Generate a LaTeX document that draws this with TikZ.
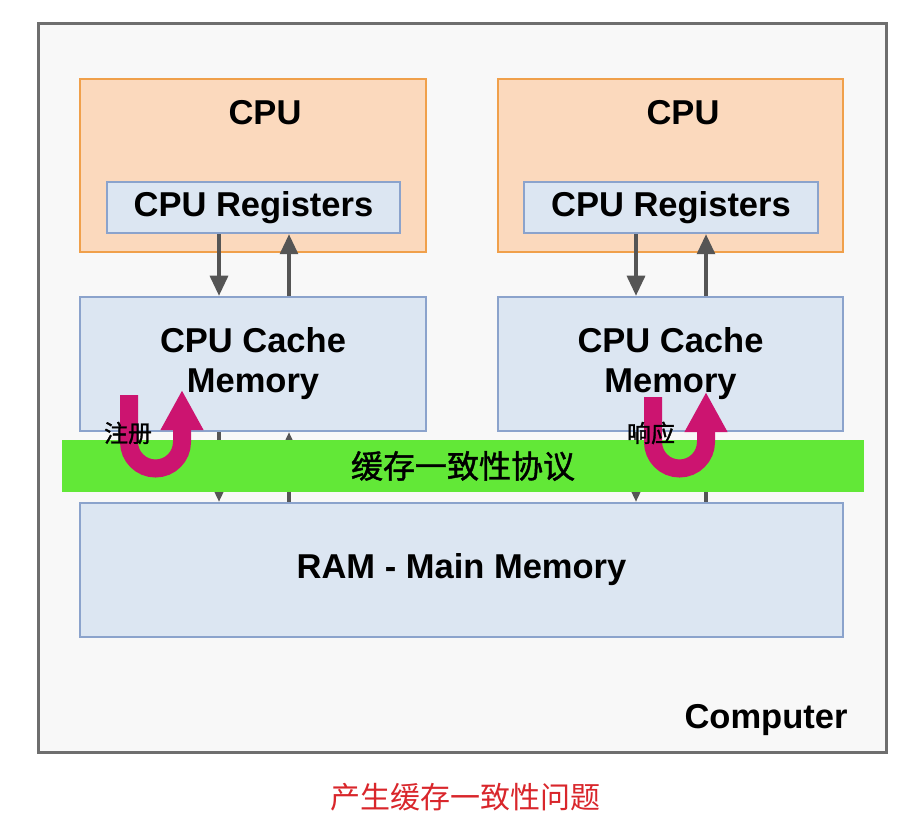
\documentclass[tikz,border=0pt]{standalone}
\usepackage{fontspec}
\setmainfont{Liberation Sans}
\newfontfamily\cjk{Noto Sans CJK SC}
\newfontfamily\cjkheavy{Noto Sans CJK SC}[FakeBold=1.3]
\usetikzlibrary{arrows.meta}

\definecolor{pcgray}{HTML}{6E6E6E}
\definecolor{pcfill}{HTML}{F8F8F8}
\definecolor{cpuedge}{HTML}{F0A04B}
\definecolor{cpufill}{HTML}{FBD9BD}
\definecolor{memedge}{HTML}{8BA3CC}
\definecolor{memfill}{HTML}{DCE6F2}
\definecolor{bandgreen}{HTML}{62E837}
\definecolor{turnpink}{HTML}{CC1470}
\definecolor{linkgray}{HTML}{555555}
\definecolor{notered}{HTML}{D9262B}

\begin{document}
\begin{tikzpicture}[x=1pt,y=-1pt,
  cpubox/.style={draw=cpuedge, fill=cpufill, line width=2.5pt, inner sep=0pt},
  membox/.style={draw=memedge, fill=memfill, line width=2.5pt, inner sep=0pt, align=center,
    font=\fontsize{34.5}{40}\selectfont\bfseries},
  link/.style={draw=linkgray, line width=3.2pt, -{Triangle[length=20pt,width=18pt]}},
  uturn/.style={draw=turnpink, line width=18pt, -{Triangle[length=40pt,width=40pt]}},
  big/.style={font=\fontsize{34.5}{40}\selectfont\bfseries}]
\useasboundingbox (0,0) rectangle (918,826);
\fill[white] (0,0) rectangle (918,826);

% computer frame
\node[draw=pcgray, fill=pcfill, line width=3pt, minimum width=848pt, minimum height=728pt] (pc) at (462,388) {};
\node[big, anchor=east] (pclabel) at (851,720) {Computer};

% two cpus
\node[cpubox, minimum width=346pt, minimum height=173pt] (cpu1) at (253,165.5) {};
\node[cpubox, minimum width=345pt, minimum height=173pt] (cpu2) at (670.5,165.5) {};
\node[big] (cpu1title) at (265,113) {CPU};
\node[big] (cpu2title) at (683,113) {CPU};
\node[membox, minimum width=293pt, minimum height=51pt] (reg1) at (253.5,207.5) {CPU Registers};
\node[membox, minimum width=294pt, minimum height=51pt] (reg2) at (671,207.5) {CPU Registers};

% caches and ram
\node[membox, minimum width=346pt, minimum height=134pt] (cache1) at (253,364) {CPU Cache\\Memory};
\node[membox, minimum width=345pt, minimum height=134pt] (cache2) at (670.5,364) {CPU Cache\\Memory};
\node[membox, minimum width=763pt, minimum height=134pt] (ram) at (461.5,570) {RAM - Main Memory};

\draw[link] ([xshift=-34.5pt]reg1.south) -- ([xshift=-34.5pt]reg1.south |- cache1.north);
\draw[link] ([xshift=35.5pt]reg1.south |- cache1.north) -- ([xshift=35.5pt]reg1.south);
\draw[link] ([xshift=-35pt]reg2.south) -- ([xshift=-35pt]reg2.south |- cache2.north);
\draw[link] ([xshift=35pt]reg2.south |- cache2.north) -- ([xshift=35pt]reg2.south);

\draw[link] ([xshift=-34pt]cache1.south) -- ([xshift=-34pt]cache1.south |- ram.north);
\draw[link] ([xshift=36pt]cache1.south |- ram.north) -- ([xshift=36pt]cache1.south);
\draw[link] ([xshift=-34.5pt]cache2.south) -- ([xshift=-34.5pt]cache2.south |- ram.north);
\draw[link] ([xshift=35.5pt]cache2.south |- ram.north) -- ([xshift=35.5pt]cache2.south);

% coherence protocol band
\node[fill=bandgreen, minimum width=802pt, minimum height=52pt, inner sep=0pt,
  font=\cjkheavy\fontsize{32}{36}\selectfont] (band) at (463,466) {缓存一致性协议};

% register / respond turns
\draw[uturn] (129,395) -- (129,442) arc[start angle=180, end angle=0, radius=26.5] -- (182,390);
\draw[uturn] (653,397) -- (653,442) arc[start angle=180, end angle=0, radius=26.5] -- (706,392);
\node[font=\cjkheavy\fontsize{24}{28}\selectfont] (reglabel) at (128,433) {注册};
\node[font=\cjkheavy\fontsize{24}{28}\selectfont] (resplabel) at (651,433) {响应};

\node[text=notered, font=\cjk\fontsize{30}{34}\selectfont] (caption) at (465,797) {产生缓存一致性问题};
\end{tikzpicture}
\end{document}
